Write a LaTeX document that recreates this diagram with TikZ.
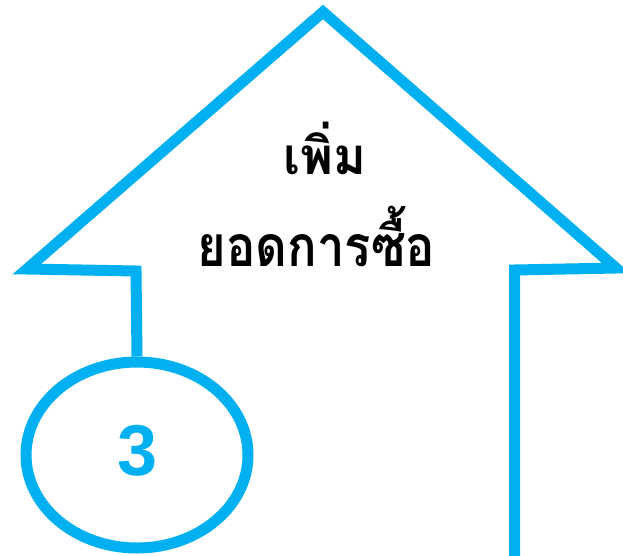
\documentclass[tikz,border=0pt]{standalone}
\usepackage{graphicx}
\usepackage{fontspec}
\setmainfont{Liberation Sans}
\newfontfamily\thaifont[Script=Thai]{Loma}
\usetikzlibrary{shapes.geometric}
\definecolor{arrowblue}{HTML}{00B0F0}
\tikzset{
  outline/.style={draw=arrowblue, line width=11pt, line join=miter, miter limit=20},
  thaitext/.style={text=black, inner sep=0pt, anchor=base},
}
\begin{document}
\begin{tikzpicture}[x=1pt,y=-1pt]
\useasboundingbox (0,0) rectangle (623,555);
\coordinate (lt) at (27,269);
\coordinate (apex) at (323,12);
\coordinate (rt) at (616,268);
\coordinate (rs) at (514.5,270);
\coordinate (rb) at (514.5,570);
\coordinate (ls) at (136,271);
\node[outline, ellipse, minimum width=222pt, minimum height=186pt, inner sep=0pt] (circ) at (137,455) {};
\node[font=\fontsize{72}{72}\selectfont\bfseries, text=arrowblue, anchor=base, inner sep=0pt] (num) at (137.5,475) {3};
\draw[outline] (circ.north) -- (ls) -- (lt) -- (apex) -- (rt) -- (rs) -- (rb);
\node[thaitext] (l1) at (325,174) {\scalebox{0.98}[1]{\thaifont\bfseries\fontsize{51}{51}\selectfont เพิ่ม}};
\node[thaitext] (l2) at (316.5,266) {\scalebox{0.86}[1]{\thaifont\bfseries\fontsize{57}{57}\selectfont ยอดการซื้อ}};
\end{tikzpicture}
\end{document}
